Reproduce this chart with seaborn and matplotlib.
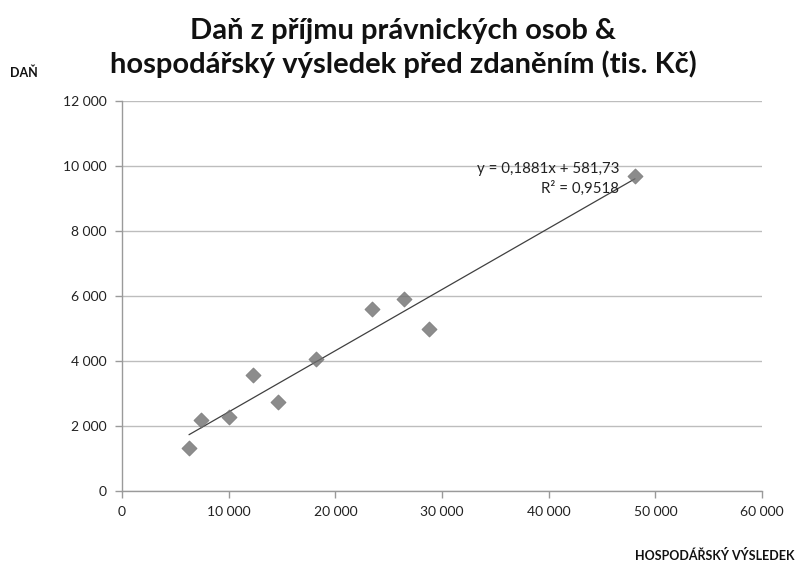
import matplotlib
matplotlib.use("Agg")
import matplotlib.pyplot as plt
import matplotlib.ticker as mticker
import seaborn as sns
import pandas as pd
import numpy as np

hv = [6280, 7430, 10060, 12250, 14660, 18190, 23400, 26410, 28750, 48090]
dan = [1310, 2180, 2290, 3560, 2750, 4070, 5590, 5910, 4970, 9690]
title = "Daň z příjmu právnických osob &\nhospodářský výsledek před zdaněním (tis. Kč)"
x_label = "HOSPODÁŘSKÝ VÝSLEDEK"
y_label = "DAŇ"
eq_text = "y = 0,1881x + 581,73\nR² = 0,9518"

df = pd.DataFrame({"hv": hv, "dan": dan})

sns.set_theme(style="white")
plt.rcParams["font.family"] = ["Lato", "DejaVu Sans"]

fig = plt.figure(figsize=(7.98, 5.65), dpi=100)
ax = fig.add_axes([0.1529, 0.1310, 0.8020, 0.6902])

sns.regplot(data=df, x="hv", y="dan", ax=ax, ci=None,
            marker="D", scatter_kws=dict(s=60, color="#707070", edgecolors="#707070", linewidths=0.5, zorder=3),
            line_kws=dict(color="#404040", lw=0.9, zorder=2))

ax.set_xlim(0, 60000)
ax.set_ylim(0, 12000)
ax.xaxis.set_major_locator(mticker.MultipleLocator(10000))
ax.yaxis.set_major_locator(mticker.MultipleLocator(2000))
fmt = mticker.FuncFormatter(lambda v, p: f"{int(v):,}".replace(",", " "))
ax.xaxis.set_major_formatter(fmt)
ax.yaxis.set_major_formatter(fmt)
ax.set_xlabel("")
ax.set_ylabel("")

ax.grid(axis="y", color="#bdbdbd", lw=1)
ax.grid(axis="x", visible=False)
for s in ["top", "right"]:
    ax.spines[s].set_visible(False)
for s in ["left", "bottom"]:
    ax.spines[s].set_color("#9a9a9a")
    ax.spines[s].set_linewidth(1)
ax.tick_params(axis="both", which="major", direction="out", length=5, width=1,
               color="#9a9a9a", labelsize=10, labelcolor="#222222", pad=6,
               left=True, bottom=True)

fig.text(0.505, 0.915, title, ha="center", va="center", fontsize=21, fontweight="bold",
         color="#111111", linespacing=1.25)
fig.text(0.012, 0.872, y_label, ha="left", va="center", fontsize=9, fontweight="bold", color="#111111")
fig.text(0.996, 0.006, x_label, ha="right", va="bottom", fontsize=9, fontweight="bold", color="#111111")
ax.text(46600, 9600, eq_text, ha="right", va="center", fontsize=10.8, color="#222222",
        linespacing=1.45, multialignment="right")

fig.savefig("out.png", dpi=100)
